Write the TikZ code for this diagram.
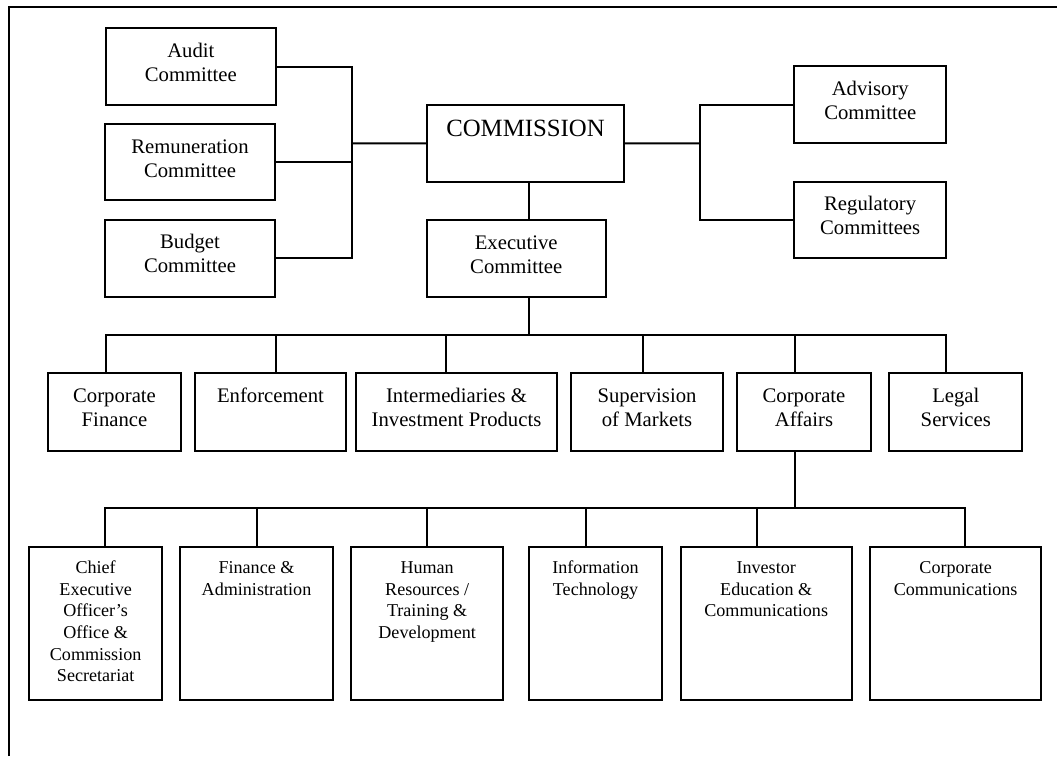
\documentclass[tikz,border=0pt]{standalone}
\usepackage{fontspec}
\setmainfont{Liberation Serif}
\newcommand{\orgtxt}[4]{\parbox[c][#2][t]{#1}{\centering\rule{0pt}{#3}#4}}
\newcommand{\fontbig}{\fontsize{24.8pt}{28pt}\selectfont}
\newcommand{\fontmid}{\fontsize{20.7pt}{24pt}\selectfont}
\newcommand{\fontsml}{\fontsize{18.1pt}{21.7pt}\selectfont}
\begin{document}
\begin{tikzpicture}[x=1pt,y=-1pt,
  ob/.style={draw, line width=2.2pt, inner sep=0pt, outer sep=0pt, anchor=north west},
  conn/.style={line width=2pt},
  frame/.style={line width=2pt}]
\useasboundingbox (0,0) rectangle (1057,756);
\fill[white] (0,0) rectangle (1057,756);
\draw[frame] (9,756) -- (9,7) -- (1057,7);

% top level
\node[ob, font=\fontmid] (audit) at (105.7,28.3) {\orgtxt{170.3pt}{76.7pt}{29pt}{Audit\\Committee}};
\node[ob, font=\fontmid] (rem) at (105,124) {\orgtxt{170pt}{76pt}{29pt}{Remuneration\\Committee}};
\node[ob, font=\fontmid] (budget) at (105,219.7) {\orgtxt{170pt}{77pt}{29pt}{Budget\\Committee}};
\node[ob, font=\fontbig] (comm) at (426.7,105) {\orgtxt{197.6pt}{76.7pt}{31pt}{COMMISSION}};
\node[ob, font=\fontmid] (exec) at (426.7,220) {\orgtxt{179pt}{76.7pt}{29pt}{Executive\\Committee}};
\node[ob, font=\fontmid] (adv) at (794.3,66) {\orgtxt{152pt}{77.3pt}{29pt}{Advisory\\Committee}};
\node[ob, font=\fontmid] (reg) at (794.3,181.7) {\orgtxt{151.7pt}{76.6pt}{29pt}{Regulatory\\Committees}};

% divisions
\node[ob, font=\fontmid] (cf) at (48,373.3) {\orgtxt{133pt}{77.7pt}{29.5pt}{Corporate\\Finance}};
\node[ob, font=\fontmid] (enf) at (194.7,373.3) {\orgtxt{151.6pt}{77.7pt}{29.5pt}{Enforcement}};
\node[ob, font=\fontmid] (int) at (356,373.3) {\orgtxt{201pt}{77.7pt}{29.5pt}{Intermediaries \&\\Investment Products}};
\node[ob, font=\fontmid] (sup) at (571,373.3) {\orgtxt{152pt}{77.7pt}{29.5pt}{Supervision\\of Markets}};
\node[ob, font=\fontmid] (ca) at (737.3,373.3) {\orgtxt{133.4pt}{77.7pt}{29.5pt}{Corporate\\Affairs}};
\node[ob, font=\fontmid] (legal) at (889.3,373.3) {\orgtxt{133pt}{77.7pt}{29.5pt}{Legal\\Services}};

% corporate affairs units
\node[ob, font=\fontsml] (chief) at (29.3,547) {\orgtxt{132.7pt}{153.3pt}{26.3pt}{Chief\\Executive\\Officer’s\\Office \&\\Commission\\Secretariat}};
\node[ob, font=\fontsml] (fin) at (180.3,547) {\orgtxt{152.4pt}{153.3pt}{26.3pt}{Finance \&\\Administration}};
\node[ob, font=\fontsml] (hr) at (351,547) {\orgtxt{152.3pt}{153.3pt}{26.3pt}{Human\\Resources /\\Training \&\\Development}};
\node[ob, font=\fontsml] (it) at (529,547) {\orgtxt{133pt}{153.3pt}{26.3pt}{Information\\Technology}};
\node[ob, font=\fontsml] (inv) at (680.7,547) {\orgtxt{171pt}{153.3pt}{26.3pt}{Investor\\Education \&\\Communications}};
\node[ob, font=\fontsml] (cc) at (870.3,547) {\orgtxt{170.7pt}{153.3pt}{26.3pt}{Corporate\\Communications}};

% bus coordinates
\coordinate (lbus) at (351.7,143.3);
\coordinate (rbus) at (699.7,143.3);
\coordinate (bus2) at (529,335);
\coordinate (bus3) at (794.7,508.3);

% connectors
\draw[conn] (audit.east) -| (lbus);
\draw[conn] (rem.east) -| (lbus);
\draw[conn] (budget.east) -| (lbus);
\draw[conn] (comm.west) -- (lbus);
\draw[conn] (adv.west) -| (rbus);
\draw[conn] (reg.west) -| (rbus);
\draw[conn] (comm.east) -- (rbus);
\draw[conn] ([xshift=3.5pt]comm.south) -- ([xshift=12.8pt]exec.north);
\draw[conn] ([xshift=12.8pt]exec.south) -- (bus2);

\draw[conn] ([xshift=-8.8pt]cf.north) |- (bus2);
\draw[conn] ([xshift=5.2pt]enf.north) |- (bus2);
\draw[conn] ([xshift=-10.5pt]int.north) |- (bus2);
\draw[conn] ([xshift=-3.7pt]sup.north) |- (bus2);
\draw[conn] ([xshift=-9.3pt]ca.north) |- (bus2);
\draw[conn] ([xshift=-9.5pt]legal.north) |- (bus2);

\draw[conn] ([xshift=-9.3pt]ca.south) -- (bus3);
\draw[conn] ([xshift=9.65pt]chief.north) |- (bus3);
\draw[conn] ([xshift=0.2pt]fin.north) |- (bus3);
\draw[conn] (hr.north) |- (bus3);
\draw[conn] ([xshift=-9.2pt]it.north) |- (bus3);
\draw[conn] ([xshift=-9.5pt]inv.north) |- (bus3);
\draw[conn] ([xshift=9.35pt]cc.north) |- (bus3);
\end{tikzpicture}
\end{document}
